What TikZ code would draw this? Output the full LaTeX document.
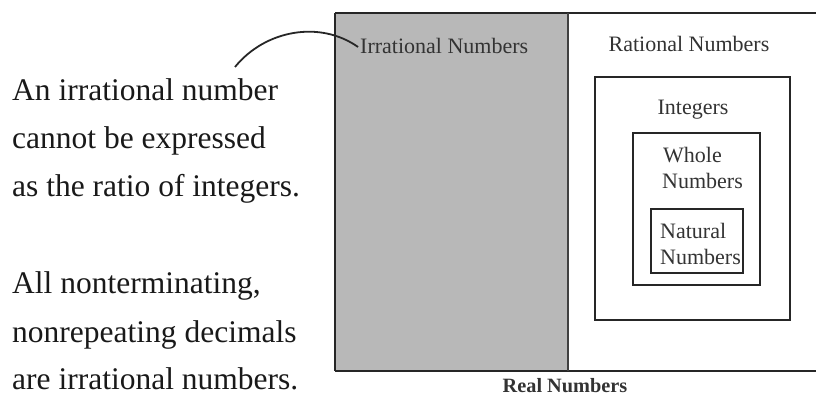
\documentclass[tikz,border=0pt]{standalone}
\usepackage{fontspec}
\setmainfont{Liberation Serif}
\begin{document}
\begin{tikzpicture}[x=1pt,y=-1pt,
  box/.style={draw=black!85,line width=1.6pt},
  lbl/.style={inner sep=0pt,font=\fontsize{22}{26}\selectfont,text=black!80},
  side/.style={inner sep=0pt,anchor=base west,font=\fontsize{31.5}{36}\selectfont,text=black!90}]
\useasboundingbox (0,0) rectangle (816,396);
% outer real-number rectangle
\fill[fill={rgb,255:red,184;green,184;blue,184}] (336,13) rectangle (568,371);
\draw[box] (335,13) -- (818,13);
\draw[box] (335,371) -- (818,371);
\draw[box] (335,13) -- (335,371);
\draw[black!75,line width=1.4pt] (568,13) -- (568,371);
% nested boxes
\draw[box] (595,77) rectangle (790,320);
\draw[box] (633,133) rectangle (760,285);
\draw[box] (651,209) rectangle (743,273);
% labels
\node[lbl,anchor=base west] (irr) at (360,53) {Irrational Numbers};
\node[lbl,anchor=base] (rat) at (689,52) {Rational Numbers};
\node[lbl,anchor=base] (int) at (693,114) {Integers};
\node[lbl,anchor=base west] (whole) at (663,162) {Whole};
\node[lbl,anchor=base west] (whole2) at (662,188) {Numbers};
\node[lbl,anchor=base west] (nat) at (660,238) {Natural};
\node[lbl,anchor=base west] (nat2) at (660,264) {Numbers};
\node[inner sep=0pt,anchor=base,font=\bfseries\fontsize{20.3}{24}\selectfont,text=black!80] (real) at (565,392) {Real Numbers};
% side text
\node[side] (t1) at (12,100) {An irrational number};
\node[side] (t2) at (12,148) {cannot be expressed};
\node[side] (t3) at (12,196) {as the ratio of integers.};
\node[side] (t4) at (12,293) {All nonterminating,};
\node[side] (t5) at (12,342) {nonrepeating decimals};
\node[side] (t6) at (12,389) {are irrational numbers.};
% pointer curve
\coordinate (cs) at (235,67);
\coordinate (ce) at (358,47);
\draw[black!85,line width=1.8pt] (cs) .. controls (265,30) and (320,20) .. (ce);
\end{tikzpicture}
\end{document}
